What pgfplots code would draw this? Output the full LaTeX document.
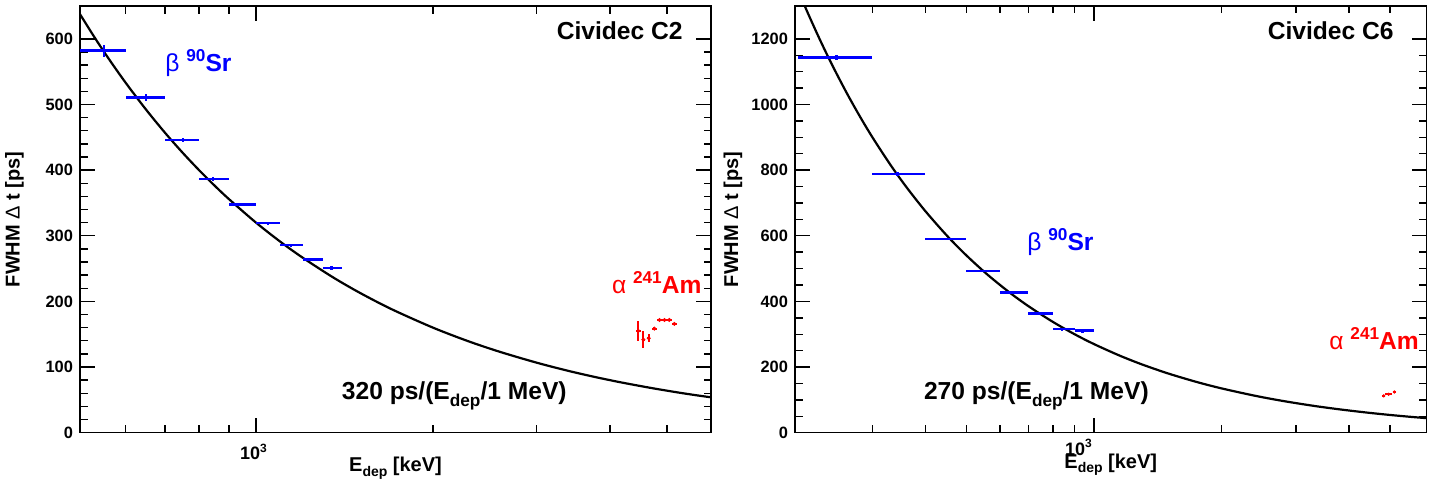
\documentclass[border=0pt]{standalone}
\usepackage{fontspec}
\setmainfont{Liberation Sans}
\usepackage{pgfplots}
\pgfplotsset{compat=1.18}
\usepackage{pgfplotstable}

\definecolor{rblue}{RGB}{0,0,255}
\definecolor{rred}{RGB}{255,0,0}

\newcommand\bigf{\fontsize{12.3}{14}\selectfont\bfseries}
\newcommand\supf{\fontsize{8.6}{9}\selectfont\bfseries}
\newcommand\tickf{\fontsize{8.2}{9}\selectfont\bfseries}
\newcommand\xtickf{\fontsize{9}{10}\selectfont\bfseries}
\newcommand\labf{\fontsize{10}{12}\selectfont\bfseries}

% C2: beta 90Sr
\pgfplotstableread{
x y xm xp ey
552 582 52 48 9
650 510.5 50 50 5
752 445.6 52 48 3
844 386.2 44 56 3
939 347.5 39 61 2.5
1047 319.1 47 53 2.5
1146 285.6 46 54 2.5
1243 263.6 43 57 2.5
1343 250.5 43 57 3
}\betaC

% C2: alpha 241Am
\pgfplotstableread{
x y ex ey
4469 155 40 15
4557 141.7 30 13
4654 143.9 30 6.5
4757 158.5 45 2
4855 171.7 47 1
4950 171.7 47 1
5045 171.7 47 1
5145 165.7 45 2
}\alphaC

% C2: fit 320 ps/(E/1 MeV)
\pgfplotstableread{
E t
500 640
530 603.8
560 571.4
600 533.3
650 492.3
700 457.1
750 426.7
800 400
850 376.5
900 355.6
1000 320
1100 290.9
1200 266.7
1350 237.0
1500 213.3
1700 188.2
2000 160
2300 139.1
2600 123.1
3000 106.7
3400 94.1
3800 84.2
4200 76.2
4700 68.1
5200 61.5
5600 57.1
5940 53.9
}\fitC

% C6: beta 90Sr
\pgfplotstableread{
x y xm xp ey
247 1143 47 53 8
344 787.8 44 56 6
450 590.5 50 50 4
550 493 50 50 4
650 426.8 50 50 4
750 362.8 50 50 4
840 315.2 40 60 5
940 311 40 60 6
}\betaS

% C6: alpha 241Am
\pgfplotstableread{
x y ex ey
4829 112 39 2
4960 117 88 2
5120 124 52 2
}\alphaS

% C6: fit 270 ps/(E/1 MeV)
\pgfplotstableread{
E t
197 1370.6
210 1285.7
225 1200
240 1125
260 1038.5
280 964.3
300 900
330 818.2
360 750
400 675
450 600
500 540
560 482.1
630 428.6
700 385.7
800 337.5
900 300
1000 270
1150 234.8
1300 207.7
1500 180
1750 154.3
2000 135
2400 112.5
2800 96.4
3300 81.8
3800 71.1
4400 61.4
5000 54
5600 48.2
6095 44.3
}\fitS

\begin{document}
\begin{tikzpicture}
\useasboundingbox (0,0) rectangle (718.5pt,240pt);

% ---------- left panel ----------
\begin{axis}[
  xmode=log,
  scale only axis,
  at={(40pt,23.65pt)}, anchor=south west,
  width=315.5pt, height=213.35pt,
  xmin=502, xmax=5940, ymin=0, ymax=650,
  axis line style={line width=0.8pt},
  tick style={black, line width=0.7pt},
  major tick length=7.5pt, minor tick length=3.75pt,
  tick align=inside,
  xtick={1000}, xticklabels={10\textsuperscript{3}},
  minor xtick={600,700,800,900,2000,3000,4000,5000},
  ytick={0,100,...,600}, minor y tick num=4,
  tick label style={font=\tickf},
  /pgf/number format/assume math mode=true,
  /pgf/number format/1000 sep={},
  xticklabel style={font=\xtickf, anchor=base, yshift=-13.6pt, xshift=-1pt},
  xlabel={E\raisebox{-0.45ex}{\fontsize{7}{8}\selectfont\bfseries dep} [keV]},
  ylabel={FWHM {\mdseries Δ} t [ps]},
  label style={font=\labf},
  xlabel style={at={(axis description cs:0.5,-0.092)}, anchor=base},
  ylabel style={at={(axis description cs:-0.1038,0.5)}, anchor=center},
]
\addplot[black, line width=1.1pt, smooth, no marks] table[x=E, y=t] {\fitC};
\addplot[rblue, only marks, mark=*, mark size=0.01pt,
  error bars/.cd, x dir=both, x explicit, y dir=both, y explicit,
  error mark=none, error bar style={line width=1.2pt, rblue}]
  table[x=x, y=y, x error plus=xp, x error minus=xm, y error=ey] {\betaC};
\addplot[rred, only marks, mark=*, mark size=0.8pt,
  error bars/.cd, x dir=both, x explicit, y dir=both, y explicit,
  error mark=none, error bar style={line width=1pt, rred}]
  table[x=x, y=y, x error=ex, y error=ey] {\alphaC};
\end{axis}

% ---------- right panel ----------
\begin{axis}[
  xmode=log,
  scale only axis,
  at={(397.5pt,23.65pt)}, anchor=south west,
  width=315.75pt, height=213.35pt,
  xmin=197, xmax=6095, ymin=0, ymax=1300,
  axis line style={line width=0.8pt},
  tick style={black, line width=0.7pt},
  major tick length=7.5pt, minor tick length=3.75pt,
  tick align=inside,
  xtick={1000}, xticklabels={10\textsuperscript{3}},
  minor xtick={300,400,500,600,700,800,900,2000,3000,4000,5000},
  ytick={0,200,...,1200}, minor y tick num=3,
  tick label style={font=\tickf},
  /pgf/number format/assume math mode=true,
  /pgf/number format/1000 sep={},
  xticklabel style={font=\xtickf, anchor=base, yshift=-11.2pt, xshift=-7.5pt},
  xlabel={E\raisebox{-0.45ex}{\fontsize{7}{8}\selectfont\bfseries dep} [keV]},
  ylabel={FWHM {\mdseries Δ} t [ps]},
  label style={font=\labf},
  xlabel style={at={(axis description cs:0.5,-0.083)}, anchor=base},
  ylabel style={at={(axis description cs:-0.0982,0.5)}, anchor=center},
]
\addplot[black, line width=1.1pt, smooth, no marks] table[x=E, y=t] {\fitS};
\addplot[rblue, only marks, mark=*, mark size=0.01pt,
  error bars/.cd, x dir=both, x explicit, y dir=both, y explicit,
  error mark=none, error bar style={line width=1.2pt, rblue}]
  table[x=x, y=y, x error plus=xp, x error minus=xm, y error=ey] {\betaS};
\addplot[rred, only marks, mark=*, mark size=0.6pt,
  error bars/.cd, x dir=both, x explicit, y dir=both, y explicit,
  error mark=none, error bar style={line width=1pt, rred}]
  table[x=x, y=y, x error=ex, y error=ey] {\alphaS};
\end{axis}

% ---------- texts ----------
\node[anchor=base east, inner sep=0pt, font=\bigf] at (341.5pt,220.35pt) {Cividec C2};
\node[anchor=base west, inner sep=0pt, font=\bigf, text=rblue] at (82.5pt,204.15pt)
  {{\mdseries β} \raisebox{0.8ex}{\supf 90}Sr};
\node[anchor=base west, inner sep=0pt, font=\bigf, text=rred] at (305.8pt,93pt)
  {{\mdseries α} \raisebox{0.8ex}{\supf 241}Am};
\node[anchor=base west, inner sep=0pt, font=\bigf] at (170.75pt,40pt)
  {320 ps/(E\raisebox{-0.5ex}{\supf dep}/1 MeV)};

\node[anchor=base east, inner sep=0pt, font=\bigf] at (697pt,220.35pt) {Cividec C6};
\node[anchor=base west, inner sep=0pt, font=\bigf, text=rblue] at (513.5pt,114.5pt)
  {{\mdseries β} \raisebox{0.8ex}{\supf 90}Sr};
\node[anchor=base west, inner sep=0pt, font=\bigf, text=rred] at (664.5pt,65pt)
  {{\mdseries α} \raisebox{0.8ex}{\supf 241}Am};
\node[anchor=base west, inner sep=0pt, font=\bigf] at (461.8pt,40pt)
  {270 ps/(E\raisebox{-0.5ex}{\supf dep}/1 MeV)};
\end{tikzpicture}
\end{document}
